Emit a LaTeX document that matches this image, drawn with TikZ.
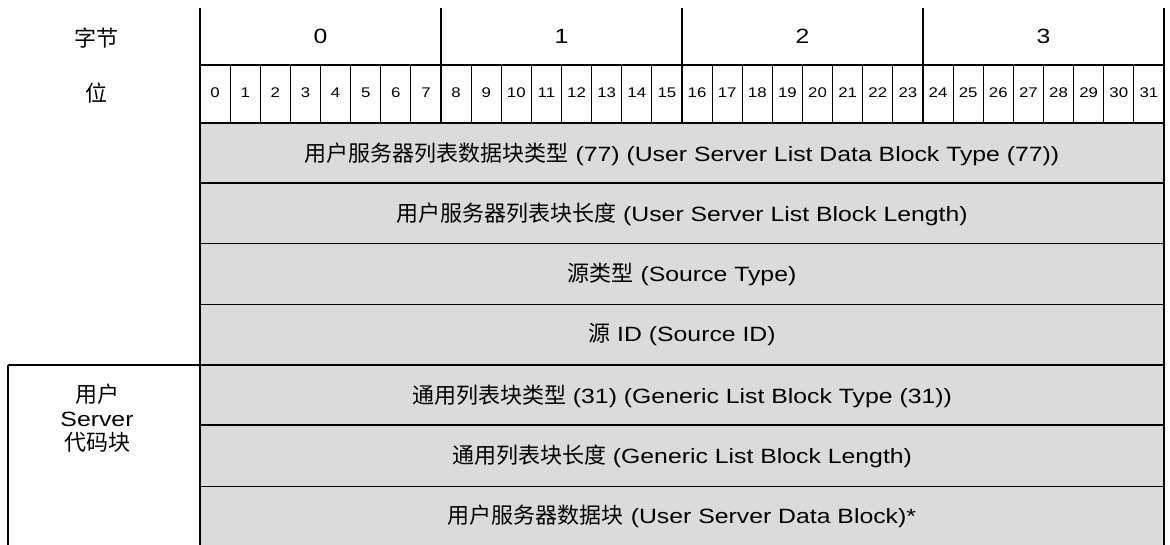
\documentclass[tikz,border=0pt]{standalone}
\usepackage{fontspec}
\setmainfont{Liberation Sans}[FakeStretch=1.2]
\newfontfamily\zhfont{Noto Sans CJK SC}
\newcommand{\zh}[1]{{\zhfont\fontsize{16.5}{18}\selectfont #1}}
\definecolor{fieldgray}{HTML}{DBDBDB}

\begin{document}
\begin{tikzpicture}[x=0.75pt,y=-0.75pt,
  frameline/.style={line width=1.5pt},
  rowline/.style={line width=1.1pt},
  bitline/.style={line width=0.6pt},
  headtext/.style={font=\fontsize{15.5}{18}\selectfont},
  bittext/.style={font=\fontsize{10.5}{12}\selectfont},
  fieldtext/.style={font=\fontsize{15.5}{18}\selectfont}]

\useasboundingbox (0,0) rectangle (1170,544);

% Grey field area
\fill[fieldgray] (200,123) rectangle (1164,546);

% Row headers on the left
\node[headtext] (bytehead) at (96,38) {\zh{字节}};
\node[headtext] (bithead) at (96,93) {\zh{位}};

% Byte numbers
\foreach \b in {0,...,3}
  \node[headtext] (byte\b) at ({200+241*\b+120.5},36) {\b};

% Bit numbers and thin bit separators
\foreach \i in {0,...,31} {
  \node[bittext] (bit\i) at ({200+30.125*(\i+0.5)},93) {\i};
  \draw[bitline] ({200+30.125*\i},65) -- ({200+30.125*\i},123);
}

% Fields
\node[fieldtext] (blocktype) at (682,154) {\zh{用户服务器列表数据块类型} (77) (User Server List Data Block Type (77))};
\node[fieldtext] (blocklen) at (682,214) {\zh{用户服务器列表块长度} (User Server List Block Length)};
\node[fieldtext] (srctype) at (682,274) {\zh{源类型} (Source Type)};
\node[fieldtext] (srcid) at (682,335) {\zh{源} ID (Source ID)};
\node[fieldtext] (gentype) at (682,396) {\zh{通用列表块类型} (31) (Generic List Block Type (31))};
\node[fieldtext] (genlen) at (682,456) {\zh{通用列表块长度} (Generic List Block Length)};
\node[fieldtext] (srvdata) at (682,516) {\zh{用户服务器数据块} (User Server Data Block)*};

% Left label of the server block
\node[headtext, align=center, inner sep=0pt] (srvblock) at (97,418)
  {\zh{用户}\\Server\\\zh{代码块}};

% Horizontal lines
\draw[frameline] (200,65) -- (1164,65);
\draw[frameline] (200,123) -- (1164,123);
\draw[rowline] (200,183) -- (1164,183);
\draw[bitline] (200,243) -- (1164,243);
\draw[bitline] (200,304) -- (1164,304);
\draw[rowline] (8,365) -- (1164,365);
\draw[rowline] (200,425) -- (1164,425);
\draw[bitline] (200,486) -- (1164,486);

% Vertical lines
\draw[frameline] (200,8) -- (200,546);
\draw[frameline] (1164,8) -- (1164,546);
\foreach \x in {441,682,923}
  \draw[frameline] (\x,8) -- (\x,123);
\draw[frameline] (8,365) -- (8,546);

\end{tikzpicture}
\end{document}
